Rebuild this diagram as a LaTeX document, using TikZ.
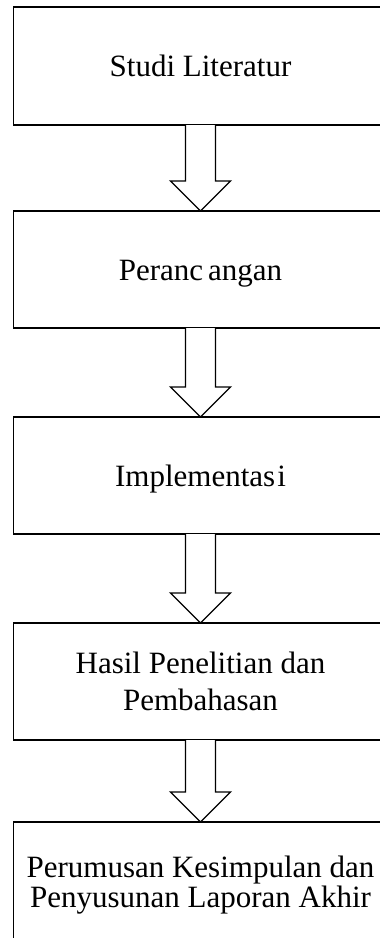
\documentclass[tikz,border=0pt]{standalone}
\usepackage{fontspec}
\setmainfont{Liberation Serif}
\usetikzlibrary{calc}
\tikzset{
  stage/.style={draw=black, line width=1.3pt, fill=white, rectangle, outer sep=0pt,
    minimum width=374pt, align=center, font=\fontsize{31}{37.7}\selectfont},
  oneline/.style={text height=21pt, text depth=0pt},
  blockarrow/.style={draw=black, line width=1.3pt, fill=white, line join=miter}
}
\begin{document}
\begin{tikzpicture}[x=1pt,y=-1pt]
\useasboundingbox (0,0) rectangle (380,938);
\node[stage, oneline, minimum height=118pt] (s1) at (200.5,66) {Studi Literatur};
\node[stage, oneline, minimum height=117pt] (s2) at (200.5,269.5) {Peranc\kern5pt{}angan};
\node[stage, oneline, minimum height=117pt] (s3) at (200.5,475.5) {Implementas\kern2pt{}i};
\node[stage, minimum height=117pt] (s4) at (200.5,681.5) {Hasil Penelitian dan\\Pembahasan};
\node[stage, minimum height=126pt, font=\fontsize{31}{30}\selectfont] (s5) at (200.5,885) {Perumusan Kesimpulan dan\\Penyusunan Laporan Akhir};
\foreach \a/\b in {s1/s2, s2/s3, s3/s4, s4/s5} {
  \draw[blockarrow] ($(\a.south)+(-15,0)$) -- ($(\b.north)+(-15,-30)$) -- ($(\b.north)+(-30,-30)$)
    -- (\b.north) -- ($(\b.north)+(30,-30)$) -- ($(\b.north)+(15,-30)$) -- ($(\a.south)+(15,0)$);
}
\end{tikzpicture}
\end{document}
